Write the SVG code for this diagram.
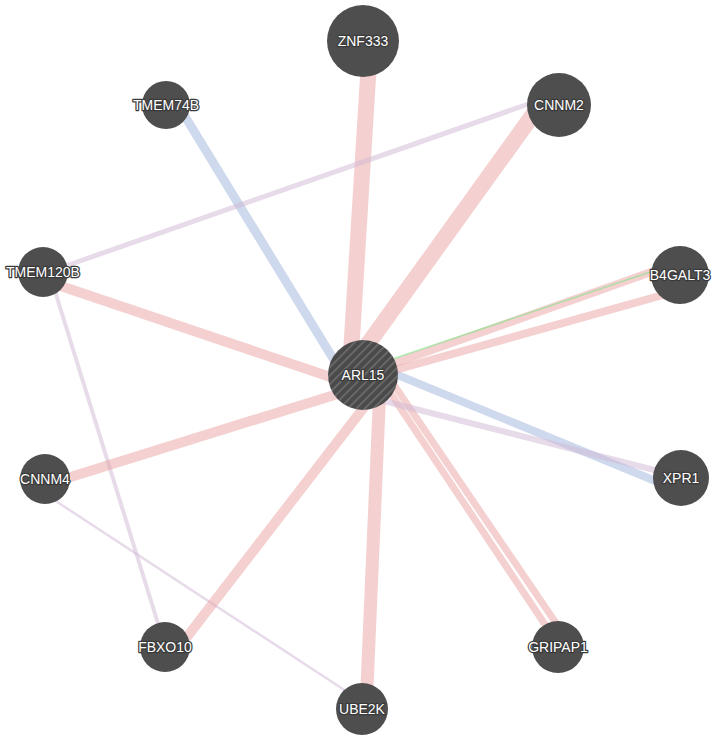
<svg xmlns="http://www.w3.org/2000/svg" width="716" height="740" viewBox="0 0 716 740">
<style>
.e{fill:none;stroke-linecap:butt}
.phys{stroke:#eaa2a2;stroke-opacity:0.5}
.coloc{stroke:#a0b3dc;stroke-opacity:0.5}
.coexp{stroke:#d0b7d5;stroke-opacity:0.5}
.gen{stroke:#90e190;stroke-opacity:0.7}
.n{fill:#4e4e4e}
.lbl{font-family:"Liberation Sans",Arial,sans-serif;font-size:14px;fill:#ffffff;text-anchor:middle;dominant-baseline:central;stroke:#3a3a3a;stroke-width:2.5px;paint-order:stroke;stroke-linejoin:round}
</style>
<defs>
<pattern id="hatch" width="6" height="6" patternUnits="userSpaceOnUse" patternTransform="rotate(45)">
<rect width="6" height="6" fill="#4a4a4a"/>
<rect x="0" y="0" width="1.6" height="6" fill="#6e6e6e"/>
</pattern>
</defs>
<rect width="716" height="740" fill="#ffffff"/>
<g id="edges">
<line class="e phys" x1="370" y1="45" x2="350" y2="370" stroke-width="16"/>
<line class="e phys" x1="540" y1="105" x2="355" y2="362" stroke-width="16"/>
<line class="e coloc" x1="178" y1="105" x2="345" y2="378" stroke-width="9"/>
<line class="e coexp" x1="60" y1="268" x2="540" y2="100" stroke-width="5"/>
<line class="e phys" x1="43" y1="280" x2="360" y2="387" stroke-width="10"/>
<line class="e coexp" x1="50" y1="275" x2="160" y2="630" stroke-width="4"/>
<line class="e phys" x1="45" y1="485" x2="360" y2="387" stroke-width="10"/>
<line class="e coexp" x1="45" y1="494" x2="355" y2="697" stroke-width="2.5"/>
<line class="e phys" x1="180" y1="646" x2="375" y2="393" stroke-width="10"/>
<line class="e phys" x1="380" y1="385" x2="366" y2="710" stroke-width="13"/>
<line class="e phys" x1="385" y1="385" x2="550" y2="632" stroke-width="7"/>
<line class="e phys" x1="392" y1="382" x2="562" y2="632" stroke-width="7"/>
<line class="e coloc" x1="366" y1="362" x2="670" y2="487" stroke-width="8"/>
<line class="e coexp" x1="372" y1="398" x2="670" y2="474" stroke-width="6"/>
<line class="e phys" x1="370" y1="372" x2="668" y2="266" stroke-width="8"/>
<line class="e phys" x1="370" y1="377" x2="670" y2="293" stroke-width="8"/>
<line class="e gen" x1="372" y1="366" x2="668" y2="266" stroke-width="1.5"/>
</g>
<g id="node-ZNF333"><circle class="n" cx="363" cy="41" r="36"/><text class="lbl" x="363" y="41">ZNF333</text></g>
<g id="node-CNNM2"><circle class="n" cx="559" cy="105" r="32"/><text class="lbl" x="559" y="105">CNNM2</text></g>
<g id="node-TMEM74B"><circle class="n" cx="166" cy="105" r="24"/><text class="lbl" x="166" y="105">TMEM74B</text></g>
<g id="node-TMEM120B"><circle class="n" cx="43" cy="272" r="25"/><text class="lbl" x="43" y="272">TMEM120B</text></g>
<g id="node-B4GALT3"><circle class="n" cx="680" cy="275" r="29"/><text class="lbl" x="680" y="275">B4GALT3</text></g>
<g id="node-CNNM4"><circle class="n" cx="45" cy="479" r="25"/><text class="lbl" x="45" y="479">CNNM4</text></g>
<g id="node-XPR1"><circle class="n" cx="681" cy="478" r="28"/><text class="lbl" x="681" y="478">XPR1</text></g>
<g id="node-FBXO10"><circle class="n" cx="165" cy="647" r="25"/><text class="lbl" x="165" y="647">FBXO10</text></g>
<g id="node-GRIPAP1"><circle class="n" cx="558" cy="647" r="26"/><text class="lbl" x="558" y="647">GRIPAP1</text></g>
<g id="node-UBE2K"><circle class="n" cx="362" cy="709" r="26"/><text class="lbl" x="362" y="709">UBE2K</text></g>
<g id="node-ARL15"><circle cx="363" cy="375" r="35" fill="url(#hatch)"/><text class="lbl" x="363" y="375">ARL15</text></g>
</svg>
